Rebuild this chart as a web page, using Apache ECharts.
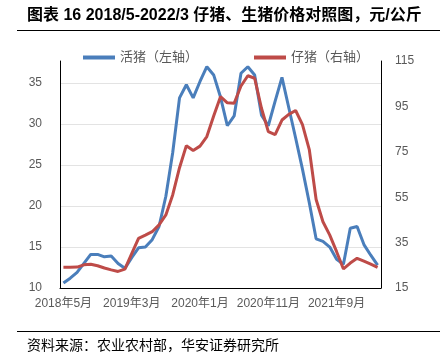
<!DOCTYPE html>
<html>
<head>
<meta charset="utf-8">
<script src="https://cdn.jsdelivr.net/npm/echarts@6/dist/echarts.min.js"></script>
<style>
  html, body { margin: 0; padding: 0; background: #fff; }
  #chart { width: 440px; height: 354px; }
</style>
</head>
<body>
<div id="chart"></div>
<script>
// 2018/5 - 2022/3, monthly
const months = [
  '2018年5月', '2018年6月', '2018年7月', '2018年8月', '2018年9月', '2018年10月', '2018年11月', '2018年12月',
  '2019年1月', '2019年2月', '2019年3月', '2019年4月', '2019年5月', '2019年6月', '2019年7月', '2019年8月',
  '2019年9月', '2019年10月', '2019年11月', '2019年12月', '2020年1月', '2020年2月', '2020年3月', '2020年4月',
  '2020年5月', '2020年6月', '2020年7月', '2020年8月', '2020年9月', '2020年10月', '2020年11月', '2020年12月',
  '2021年1月', '2021年2月', '2021年3月', '2021年4月', '2021年5月', '2021年6月', '2021年7月', '2021年8月',
  '2021年9月', '2021年10月', '2021年11月', '2021年12月', '2022年1月', '2022年2月', '2022年3月'
]

// 活猪 (left axis, 元/公斤)
const livePig = [
  10.6, 11.2, 11.9, 13.0, 14.1, 14.1, 13.8, 13.9, 13.0, 12.4,
  13.7, 14.9, 15.0, 15.9, 17.5, 21.2, 26.5, 33.2, 34.8, 33.2,
  35.2, 37.0, 36.0, 33.3, 29.8, 31.0, 36.2, 37.0, 36.0, 31.1,
  29.8, 32.8, 35.7, 32.0, 28.3, 24.5, 20.4, 16.0, 15.7, 15.0,
  13.5, 12.9, 17.3, 17.5, 15.3, 14.0, 12.8
]

// 仔猪 (right axis, 元/公斤)
const piglet = [
  24.1, 24.1, 24.2, 25.2, 25.5, 24.8, 23.8, 23.0, 22.3, 23.3,
  30.1, 36.9, 38.3, 39.8, 42.8, 47.2, 56.0, 68.0, 77.7, 75.6,
  77.5, 81.7, 90.8, 99.3, 96.6, 96.4, 104.0, 108.5, 107.4, 94.2,
  83.9, 82.6, 89.0, 91.5, 93.2, 87.0, 76.0, 54.0, 44.2, 38.3,
  31.0, 23.4, 26.0, 28.1, 26.8, 25.5, 24.1
]

const chart = echarts.init(document.getElementById('chart'))

const font = "'Liberation Sans', 'Noto Sans CJK SC', sans-serif"
const gray = '#595959'

chart.setOption({
  animation: false,
  textStyle: { fontFamily: font },
  title: [
    {
      text: '图表 16 2018/5-2022/3 仔猪、生猪价格对照图，元/公斤',
      left: 27,
      top: 8,
      padding: 0,
      textStyle: { fontSize: 16, fontWeight: 'bold', color: '#000', fontFamily: font }
    },
    {
      text: '资料来源：农业农村部，华安证券研究所',
      left: 27,
      top: 338,
      padding: 0,
      textStyle: { fontSize: 14, fontWeight: 'normal', color: '#000', fontFamily: "'Noto Sans CJK SC', sans-serif" }
    }
  ],
  graphic: [
    { type: 'line', shape: { x1: 17, y1: 30.5, x2: 440, y2: 30.5 }, style: { stroke: '#000', lineWidth: 1 } },
    { type: 'line', shape: { x1: 17, y1: 331.5, x2: 440, y2: 331.5 }, style: { stroke: '#000', lineWidth: 1 } }
  ],
  legend: [
    {
      data: ['活猪（左轴）'],
      left: 78,
      top: 46,
      itemWidth: 32,
      itemHeight: 4,
      icon: 'rect',
      textStyle: { fontSize: 13, color: gray }
    },
    {
      data: ['仔猪（右轴）'],
      left: 249,
      top: 46,
      itemWidth: 32,
      itemHeight: 4,
      icon: 'rect',
      textStyle: { fontSize: 13, color: gray }
    }
  ],
  grid: { left: 60, right: 59, top: 61, bottom: 66 },
  xAxis: {
    type: 'category',
    data: months,
    boundaryGap: true,
    axisLine: { lineStyle: { color: '#000', width: 1 } },
    axisTick: { interval: 9, length: 5, lineStyle: { color: '#000' } },
    axisLabel: { interval: 9, color: gray, fontSize: 12, margin: 10 },
    splitLine: { show: false }
  },
  yAxis: [
    {
      type: 'value',
      min: 10,
      max: 37.7,
      interval: 5,
      axisLine: { show: true, lineStyle: { color: '#000', width: 1 } },
      axisTick: { show: false },
      axisLabel: { color: gray, fontSize: 12, margin: 18, showMaxLabel: false },
      splitLine: { show: true, showMaxLine: false, lineStyle: { color: '#e3e3e3', width: 1 } }
    },
    {
      type: 'value',
      min: 15,
      max: 115,
      interval: 20,
      position: 'right',
      axisLine: { show: true, lineStyle: { color: '#000', width: 1 } },
      axisTick: { show: false },
      axisLabel: { color: gray, fontSize: 12, margin: 14 },
      splitLine: { show: false }
    }
  ],
  series: [
    {
      name: '活猪（左轴）',
      type: 'line',
      yAxisIndex: 0,
      data: livePig,
      symbol: 'none',
      lineStyle: { color: '#4a7ebb', width: 3 },
      itemStyle: { color: '#4a7ebb' }
    },
    {
      name: '仔猪（右轴）',
      type: 'line',
      yAxisIndex: 1,
      data: piglet,
      symbol: 'none',
      lineStyle: { color: '#be4b48', width: 3 },
      itemStyle: { color: '#be4b48' }
    }
  ]
})
</script>
</body>
</html>
